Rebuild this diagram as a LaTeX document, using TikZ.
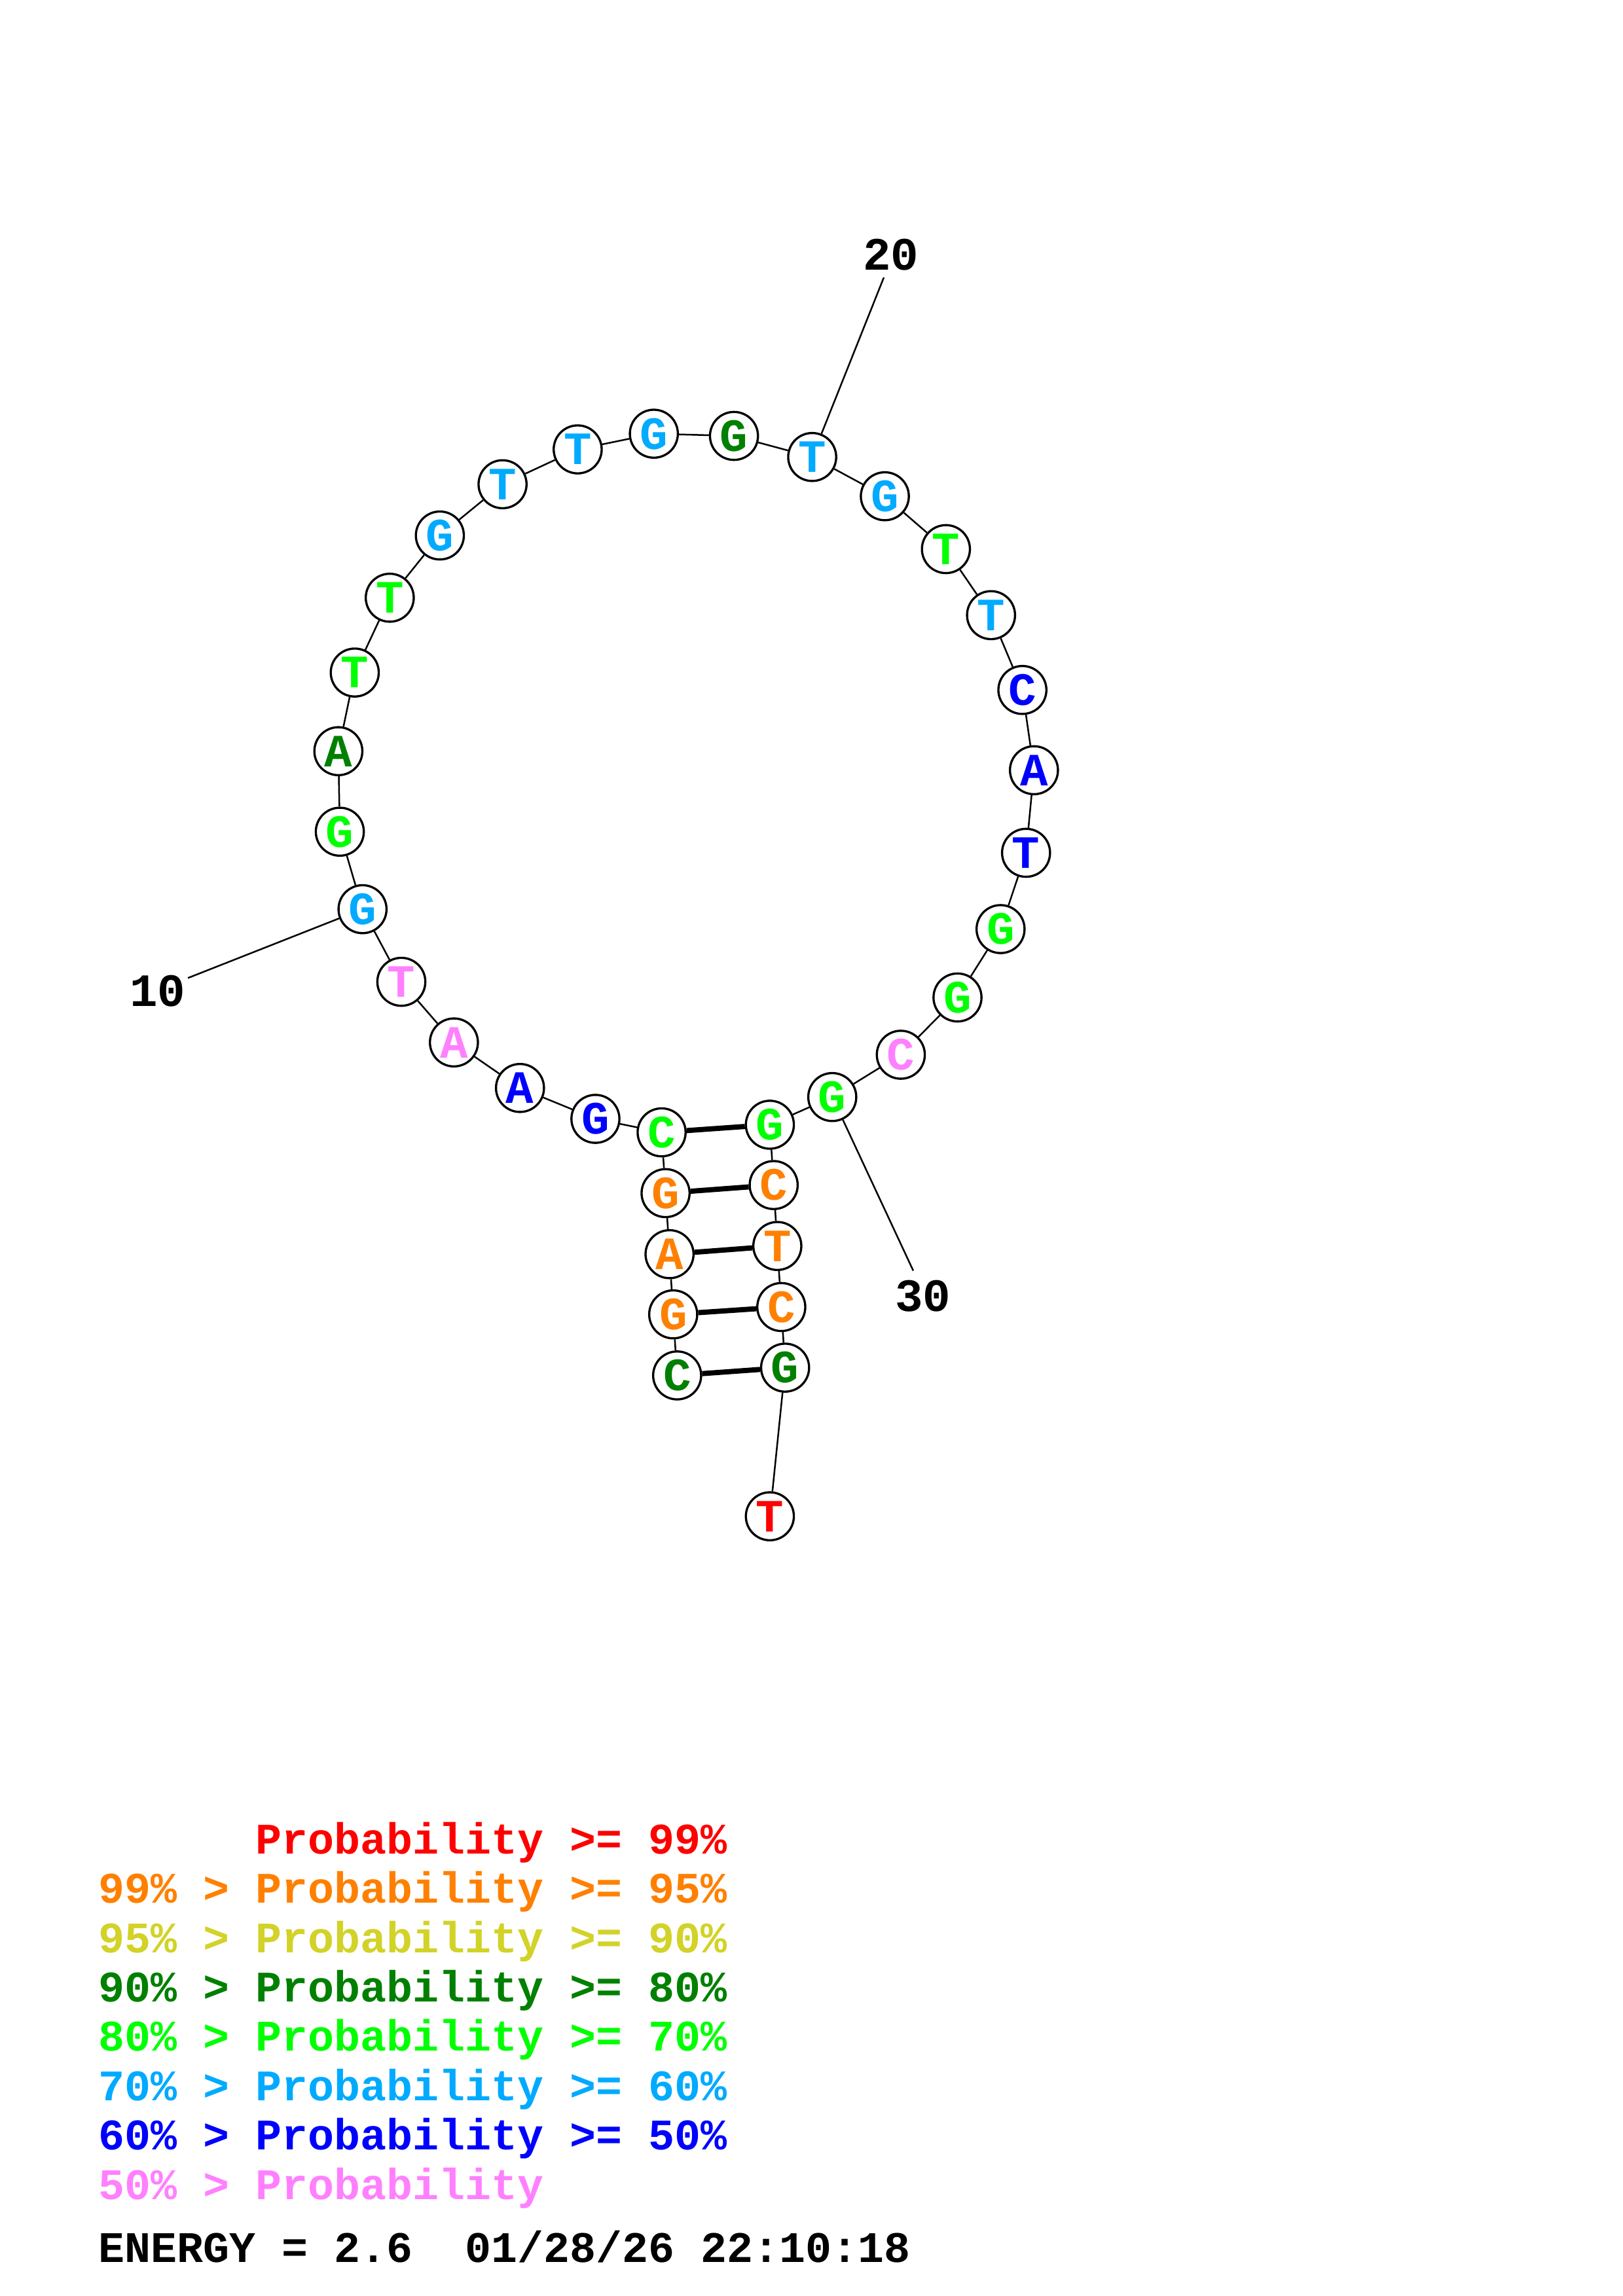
\documentclass[tikz,border=0pt]{standalone}
\usepackage{fontspec}
\newfontfamily\rnafont{Liberation Mono}
\definecolor{pRed}{RGB}{255,0,0}
\definecolor{pOrange}{RGB}{255,128,0}
\definecolor{pYellow}{RGB}{210,210,40}
\definecolor{pDkGreen}{RGB}{0,128,0}
\definecolor{pGreen}{RGB}{0,255,0}
\definecolor{pSky}{RGB}{0,170,255}
\definecolor{pBlue}{RGB}{0,0,255}
\definecolor{pPink}{RGB}{255,128,255}
\tikzset{
  nuc/.style={circle, draw, line width=0.8pt, fill=white, minimum size=17.6pt, inner sep=0pt,
    font=\rnafont\bfseries\fontsize{17}{17}\selectfont},
  bb/.style={line width=0.6pt},
  pr/.style={line width=1.9pt},
  num/.style={inner sep=0pt, font=\rnafont\bfseries\fontsize{17}{17}\selectfont},
  leg/.style={anchor=base west, inner sep=0pt, font=\rnafont\bfseries\fontsize{16}{16}\selectfont}
}
\begin{document}
\begin{tikzpicture}[x=0.5372pt, y=-0.5372pt]
			\useasboundingbox (0,0) rectangle (1108,1568);
			% bases
			\foreach \i/\x/\y/\b/\c in {
				1/462.3/939.3/C/pDkGreen, 2/459.6/897.6/G/pOrange, 3/457.1/856.5/A/pOrange,
				4/454.4/814.8/G/pOrange, 5/451.7/773.3/C/pGreen, 6/406.5/764.1/G/pBlue,
				7/355.0/743.0/A/pBlue, 8/309.9/711.9/A/pPink, 9/274.0/670.5/T/pPink,
				10/247.5/620.9/G/pSky, 11/232.0/568.0/G/pGreen, 12/231.0/513.0/A/pDkGreen,
				13/242.2/459.3/T/pGreen, 14/266.1/408.2/T/pGreen, 15/300.3/365.7/G/pSky,
				16/343.1/330.7/T/pSky, 17/394.4/306.9/T/pSky, 18/446.4/296.2/G/pSky,
				19/501.1/297.7/G/pDkGreen, 20/554.5/312.1/T/pSky, 21/604.1/338.9/G/pSky,
				22/645.8/375.0/T/pGreen, 23/676.6/420.1/T/pSky, 24/698.0/471.2/C/pBlue,
				25/705.9/526.0/A/pBlue, 26/700.5/582.4/T/pBlue, 27/683.1/634.5/G/pGreen,
				28/653.7/681.2/G/pGreen, 29/615.0/720.3/C/pPink, 30/568.2/749.2/G/pGreen,
				31/525.6/768.1/G/pGreen, 32/528.2/809.3/C/pOrange, 33/530.7/850.9/T/pOrange,
				34/533.4/892.6/C/pOrange, 35/536.0/934.0/G/pDkGreen, 36/525.6/1035.5/T/pRed}
				\node[nuc, text=\c] (n\i) at (\x,\y) {\b};
			% backbone and pairs
			\foreach \i [count=\j from 2] in {1,...,35}
				\draw[bb] (n\i) -- (n\j);
			\foreach \a/\b in {1/35, 2/34, 3/33, 4/32, 5/31}
				\draw[pr] (n\a) -- (n\b);
			% numbering
			\coordinate (e10) at (128.3,667.9);
			\coordinate (e20) at (603.4,189.5);
			\coordinate (e30) at (623.5,867.8);
			\draw[bb] (n10) -- (e10);
			\draw[bb] (n20) -- (e20);
			\draw[bb] (n30) -- (e30);
			\node[num] (t10) at (107.7,676.7) {10};
			\node[num] (t20) at (608.2,174.0) {20};
			\node[num] (t30) at (630.2,885.3) {30};
			% legend
			\node[leg, text=pRed] (l1) at (67,1266) {\hphantom{99\% > }Probability >= 99\%};
			\node[leg, text=pOrange] (l2) at (67,1299.7) {99\% > Probability >= 95\%};
			\node[leg, text=pYellow] (l3) at (67,1333.4) {95\% > Probability >= 90\%};
			\node[leg, text=pDkGreen] (l4) at (67,1367.1) {90\% > Probability >= 80\%};
			\node[leg, text=pGreen] (l5) at (67,1400.8) {80\% > Probability >= 70\%};
			\node[leg, text=pSky] (l6) at (67,1434.5) {70\% > Probability >= 60\%};
			\node[leg, text=pBlue] (l7) at (67,1468.2) {60\% > Probability >= 50\%};
			\node[leg, text=pPink] (l8) at (67,1501.9) {50\% > Probability};
			\node[leg] (energy) at (67,1545) {ENERGY = 2.6\ \ 01/28/26 22:10:18};
		\end{tikzpicture}
\end{document}
